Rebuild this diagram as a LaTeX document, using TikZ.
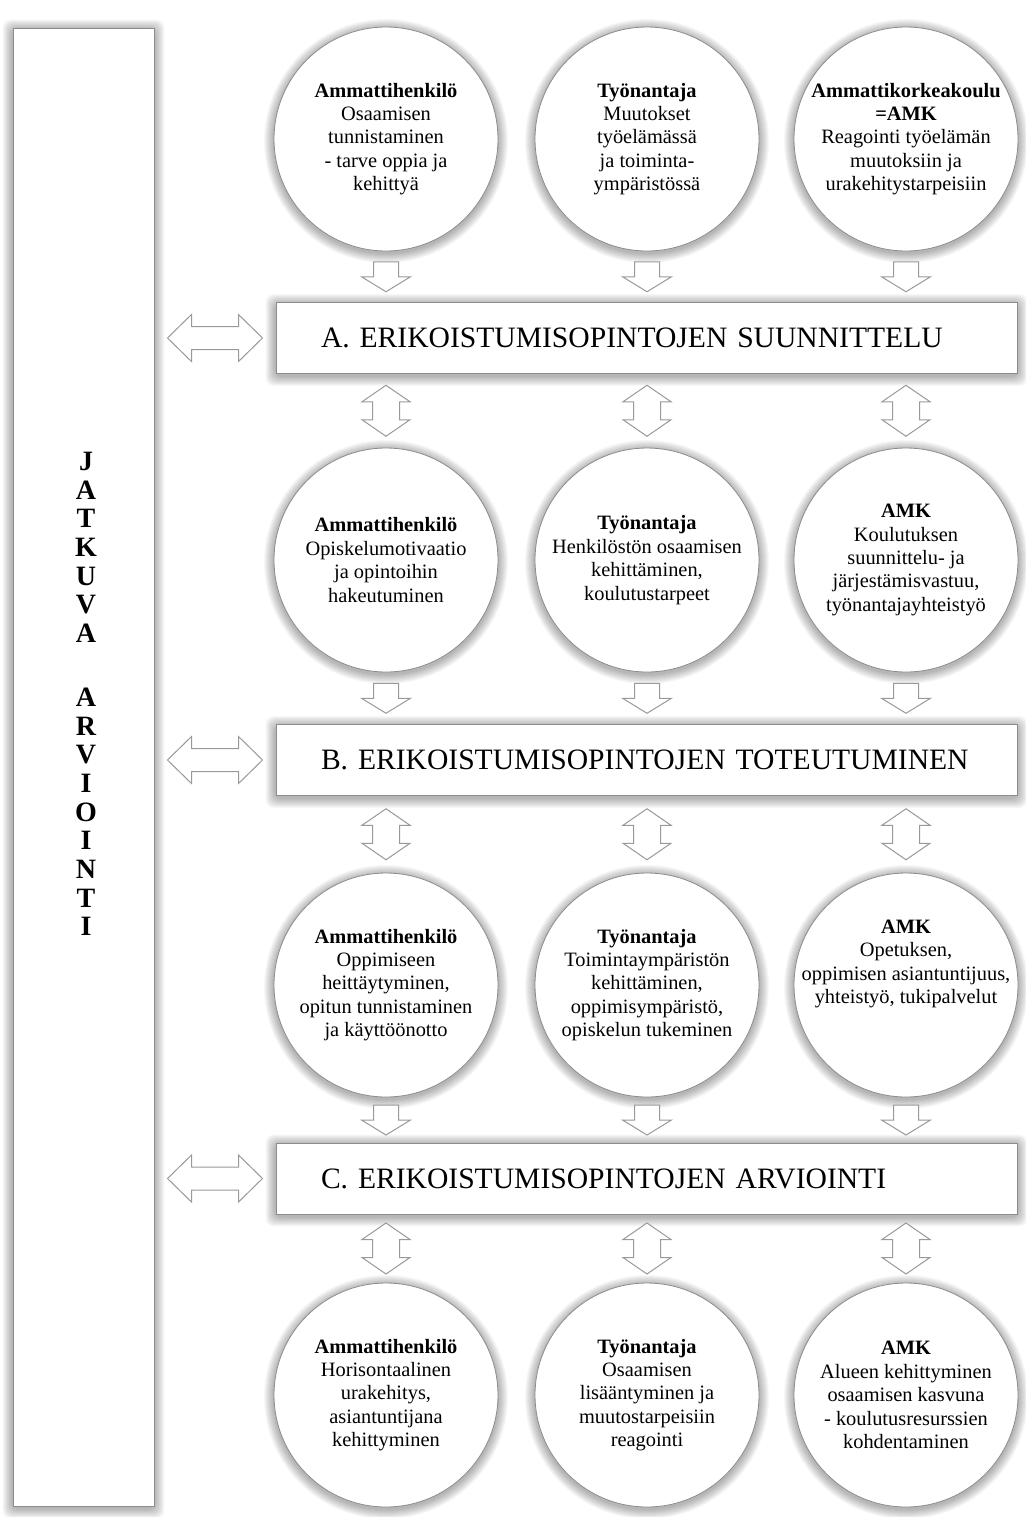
\documentclass[tikz,border=0pt]{standalone}
\usepackage{fontspec}
\setmainfont{Liberation Serif}
\usetikzlibrary{calc,backgrounds}

\tikzset{
  downarr/.pic={\draw[arr] (-12.5,-15) -- (12.5,-15) -- (12.5,0) -- (24.5,0) -- (0,15) -- (-24.5,0) -- (-12.5,0) -- cycle;},
  vdarr/.pic={\draw[arr] (0,-25.5) -- (24,-9) -- (13.5,-9) -- (13.5,9) -- (24,9) -- (0,25.5) -- (-24,9) -- (-13.5,9) -- (-13.5,-9) -- (-24,-9) -- cycle;},
  hdarr/.pic={\draw[arr] (-47.5,0) -- (-23.5,-23.5) -- (-23.5,-11.5) -- (23.5,-11.5) -- (23.5,-23.5) -- (47.5,0) -- (23.5,23.5) -- (23.5,11.5) -- (-23.5,11.5) -- (-23.5,23.5) -- cycle;}
}

\begin{document}
\begin{tikzpicture}[
  x=0.5pt,y=-0.5pt,
  circ/.style={draw=black!45,fill=white,circle,minimum size=112pt,inner sep=-10pt,align=center,
    font=\fontsize{10.2}{11.7}\selectfont},
  stage/.style={draw=black!45,fill=white,rectangle,minimum width=370.5pt,minimum height=35.5pt,
    inner xsep=22.5pt,text width=325.5pt,align=left,font=\fontsize{14.8}{16}\selectfont},
  evalbox/.style={draw=black!45,fill=white,rectangle,minimum width=70.5pt,minimum height=739pt},
  arr/.style={draw=black!40,fill=white,line width=0.5pt,line join=miter},
  shade/.style={black,opacity=0.03}
]
\def\xa{386}\def\xb{647}\def\xc{906}
\useasboundingbox (0,0) rectangle (1025,1517);

% continuous evaluation
\node[evalbox] (eval) at (83.5,767) {};
\node[font=\bfseries\fontsize{14}{14.35}\selectfont,align=center] (evaltxt) at (86,694)
  {J\\A\\T\\K\\U\\V\\A\\[17.5pt]A\\R\\V\\I\\O\\I\\N\\T\\I};

% stages
\node[stage] (bA) at (646.5,338) {\raisebox{-1.5pt}{A. ERIKOISTUMISOPINTOJEN SUUNNITTELU}};
\node[stage] (bB) at (646.5,760) {\raisebox{-1.5pt}{B. ERIKOISTUMISOPINTOJEN TOTEUTUMINEN}};
\node[stage] (bC) at (646.5,1178.5) {\raisebox{-1.5pt}{C. ERIKOISTUMISOPINTOJEN ARVIOINTI}};

% row 1
\node[circ] (c11) at (\xa,139) {\textbf{Ammattihenkilö}\\Osaamisen\\tunnistaminen\\- tarve oppia ja\\kehittyä};
\node[circ] (c12) at (\xb,139) {\textbf{Työnantaja}\\Muutokset\\työelämässä\\ja toiminta-\\ympäristössä};
\node[circ] (c13) at (\xc,139) {\textbf{Ammattikorkeakoulu}\\\textbf{=AMK}\\Reagointi työelämän\\muutoksiin ja\\urakehitystarpeisiin};
% row 2
\node[circ] (c21) at (\xa,560) {\textbf{Ammattihenkilö}\\Opiskelumotivaatio\\ja opintoihin\\hakeutuminen};
\node[circ] (c22) at (\xb,560) {\textbf{Työnantaja}\\Henkilöstön osaamisen\\kehittäminen,\\koulutustarpeet};
\node[circ] (c23) at (\xc,560) {\textbf{AMK}\\Koulutuksen\\suunnittelu- ja\\järjestämisvastuu,\\työnantajayhteistyö};
% row 3
\node[circ] (c31) at (\xa,985) {\textbf{Ammattihenkilö}\\Oppimiseen\\heittäytyminen,\\opitun tunnistaminen\\ja käyttöönotto};
\node[circ] (c32) at (\xb,985) {\textbf{Työnantaja}\\Toimintaympäristön\\kehittäminen,\\oppimisympäristö,\\opiskelun tukeminen};
\node[circ] (c33) at (\xc,985) {\textbf{AMK}\\Opetuksen,\\oppimisen asiantuntijuus,\\yhteistyö, tukipalvelut\\[11.7pt]};
% row 4
\node[circ] (c41) at (\xa,1395) {\textbf{Ammattihenkilö}\\Horisontaalinen\\urakehitys,\\asiantuntijana\\kehittyminen};
\node[circ] (c42) at (\xb,1395) {\textbf{Työnantaja}\\Osaamisen\\lisääntyminen ja\\muutostarpeisiin\\reagointi};
\node[circ] (c43) at (\xc,1395) {\textbf{AMK}\\Alueen kehittyminen\\osaamisen kasvuna\\- koulutusresurssien\\kohdentaminen};

% block arrows
\foreach \c in {1,2,3}{
  \path ($(c1\c.south)!0.5!(c1\c.south |- bA.north)$) pic {downarr};
  \path ($(c2\c.north)!0.5!(c2\c.north |- bA.south)$) pic {vdarr};
  \path ($(c2\c.south)!0.5!(c2\c.south |- bB.north)$) pic {downarr};
  \path ($(c3\c.north)!0.5!(c3\c.north |- bB.south)$) pic {vdarr};
  \path ($(c3\c.south)!0.5!(c3\c.south |- bC.north)$) pic {downarr};
  \path ($(c4\c.north)!0.5!(c4\c.north |- bC.south)$) pic {vdarr};
}
\foreach \b in {bA,bB,bC}{
  \path ($(eval.east |- \b.west)!0.5!(\b.west)$) pic {hdarr};
}

% soft shadows
\begin{scope}[on background layer]
\fill[white] (0,0) rectangle (1025,1517);
\foreach \n in {c11,c12,c13,c21,c22,c23,c31,c32,c33,c41,c42,c43}
  \foreach \k in {1,...,10}
    \fill[shade] ($(\n.center)+(0,2)$) circle[radius={112+\k}];
\foreach \n in {eval,bA,bB,bC}
  \foreach \k in {1,...,10}
    \fill[shade,rounded corners=4pt] ($(\n.north west)+(-\k,{2-\k})$) rectangle ($(\n.south east)+(\k,{2+\k})$);
\end{scope}
\end{tikzpicture}
\end{document}
